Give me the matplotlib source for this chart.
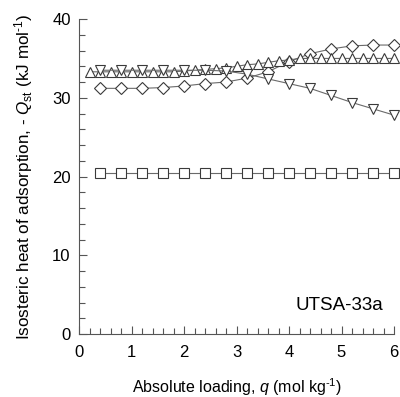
import matplotlib
matplotlib.use('Agg')
import numpy as np
import matplotlib.pyplot as plt
from matplotlib.ticker import MultipleLocator

plt.rcParams['font.family'] = ['Liberation Sans', 'DejaVu Sans']
plt.rcParams['mathtext.fontset'] = 'custom'
plt.rcParams['mathtext.it'] = 'Liberation Sans:italic'
plt.rcParams['mathtext.rm'] = 'Liberation Sans'

# loadings, mol/kg
q_coarse = [0.4, 0.8, 1.2, 1.6, 2.0, 2.4, 2.8, 3.2, 3.6, 4.0, 4.4, 4.8, 5.2, 5.6, 6.0]
q_fine = [0.2, 0.4, 0.6, 0.8, 1.0, 1.2, 1.4, 1.6, 1.8, 2.0, 2.2, 2.4, 2.6, 2.8, 3.0,
          3.2, 3.4, 3.6, 3.8, 4.0, 4.2, 4.4, 4.6, 4.8, 5.0, 5.2, 5.4, 5.6, 5.8, 6.0]

# isosteric heats, kJ/mol
qst_square = [20.4] * 15
qst_diamond = [31.2, 31.2, 31.2, 31.3, 31.5, 31.8, 32.0, 32.5, 33.3, 34.6,
               35.6, 36.2, 36.6, 36.7, 36.7]
qst_up = [33.3, 33.3, 33.3, 33.3, 33.3, 33.3, 33.3, 33.3, 33.3, 33.4,
          33.5, 33.6, 33.7, 33.8, 34.0, 34.2, 34.3, 34.5, 34.7, 34.8,
          35.0, 35.0, 35.0, 35.0, 35.0, 35.0, 35.0, 35.0, 35.0, 35.0]
qst_down = [33.5, 33.5, 33.5, 33.5, 33.5, 33.5, 33.4, 33.0, 32.4, 31.8,
            31.2, 30.3, 29.4, 28.6, 27.8]

fig = plt.figure(figsize=(4.0, 3.97), dpi=100)
ax = fig.add_axes([0.1975, 0.1587, 0.7875, 0.7933])

edge = '#3a3a3a'
line = '#6a6a6a'
kw = dict(mfc='white', mec=edge, mew=0.8, color=line, lw=0.8, clip_on=False)

ax.plot(q_coarse, qst_square, marker='s', ms=7.0, **kw)
ax.plot(q_coarse, qst_diamond, marker='D', ms=6.0, **kw)
ax.plot(q_fine, qst_up, marker='^', ms=7.6, **kw)
ax.plot(q_coarse, qst_down, marker='v', ms=7.6, **kw)

ax.set_xlim(0, 6)
ax.set_ylim(0, 40)
ax.xaxis.set_major_locator(MultipleLocator(1))
ax.xaxis.set_minor_locator(MultipleLocator(0.2))
ax.yaxis.set_major_locator(MultipleLocator(10))
ax.yaxis.set_minor_locator(MultipleLocator(2))

for s in ['top', 'right']:
    ax.spines[s].set_visible(False)
for s in ['left', 'bottom']:
    ax.spines[s].set_color('#555555')
    ax.spines[s].set_linewidth(0.8)

ax.tick_params(which='both', direction='in', color='#555555', width=0.8,
               labelsize=12)
ax.tick_params(which='major', length=6)
ax.tick_params(axis='x', which='major', pad=8)
ax.tick_params(axis='y', which='major', pad=6)
ax.tick_params(which='minor', length=4)

ax.set_xlabel('Absolute loading, $q$ (mol kg$^{\\text{-}1}$)', fontsize=11.5, labelpad=12)
ax.set_ylabel('Isosteric heat of adsorption, - $Q_{\\rm st}$ (kJ mol$^{\\text{-}1}$)',
              fontsize=12.3, labelpad=12)

ax.text(5.79, 3.6, 'UTSA-33a', fontsize=13.5, ha='right', va='center')

fig.savefig('out.png', dpi=100)
